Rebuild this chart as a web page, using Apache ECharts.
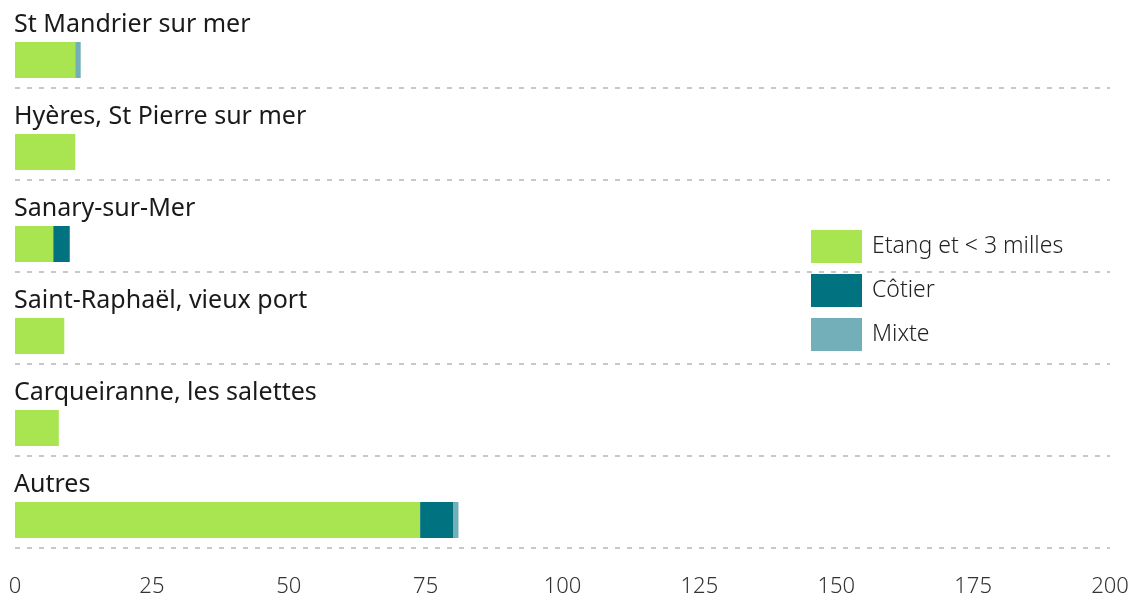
<!DOCTYPE html>
<html>
<head>
<meta charset="utf-8">
<style>
  html, body { margin: 0; padding: 0; background: #fff; }
  #main { width: 1130px; height: 599px; }
</style>
<script src="https://cdn.jsdelivr.net/npm/echarts@6/dist/echarts.min.js"></script>
</head>
<body>
<div id="main"></div>
<script>
var categories = ['St Mandrier sur mer', 'Hyères, St Pierre sur mer', 'Sanary-sur-Mer', 'Saint-Raphaël, vieux port', 'Carqueiranne, les salettes', 'Autres'];
var etang = [11, 11, 7, 9, 8, 74];
var cotier = [0, 0, 3, 0, 0, 6];
var mixte = [1, 0, 0, 0, 0, 1];
var padding = [0, 0, 0, 0, 0, 0];
var xTicks = [0, 25, 50, 75, 100, 125, 150, 175, 200];

var fontFamily = '"Noto Sans", sans-serif';

var chart = echarts.init(document.getElementById('main'));

function stackSeries(name, data, color) {
  return {
    name: name,
    type: 'bar',
    stack: 'total',
    barWidth: 36,
    barGap: 0,
    itemStyle: { color: color },
    data: data
  };
}

chart.setOption({
  animation: false,
  textStyle: { fontFamily: fontFamily },
  grid: { left: 15, right: 20, top: -4, height: 552, containLabel: false, outerBoundsMode: 'none' },
  legend: {
    orient: 'vertical',
    left: 806,
    top: 225,
    itemWidth: 51,
    itemHeight: 33,
    itemGap: 11,
    icon: 'rect',
    data: ['Etang et < 3 milles', 'Côtier', 'Mixte'],
    textStyle: { fontSize: 23, color: '#222', fontWeight: 300, fontFamily: fontFamily, padding: [3, 0, 0, 5] }
  },
  xAxis: {
    type: 'value',
    min: xTicks[0],
    max: xTicks[xTicks.length - 1],
    interval: 25,
    axisLine: { show: false },
    axisTick: { show: false },
    splitLine: { show: false },
    axisLabel: { fontSize: 22, color: '#333', fontWeight: 300, margin: 28, fontFamily: fontFamily }
  },
  yAxis: {
    type: 'category',
    inverse: true,
    data: categories,
    axisLine: { show: false },
    axisTick: { show: false },
    splitLine: { show: true, lineStyle: { color: '#c8c8c8', width: 2, type: [5, 7] } },
    axisLabel: {
      inside: true,
      margin: -1,
      align: 'left',
      verticalAlign: 'bottom',
      lineHeight: 34,
      fontSize: 25,
      color: '#1a1a1a',
      fontFamily: fontFamily
    },
    z: 10
  },
  series: [
    { name: 'pad', type: 'bar', stack: 'pad', barWidth: 36, barGap: 0, silent: true, itemStyle: { color: 'transparent' }, data: padding },
    stackSeries('Etang et < 3 milles', etang, '#a8e551'),
    stackSeries('Côtier', cotier, '#017380'),
    stackSeries('Mixte', mixte, '#72afb8')
  ]
});
</script>
</body>
</html>
